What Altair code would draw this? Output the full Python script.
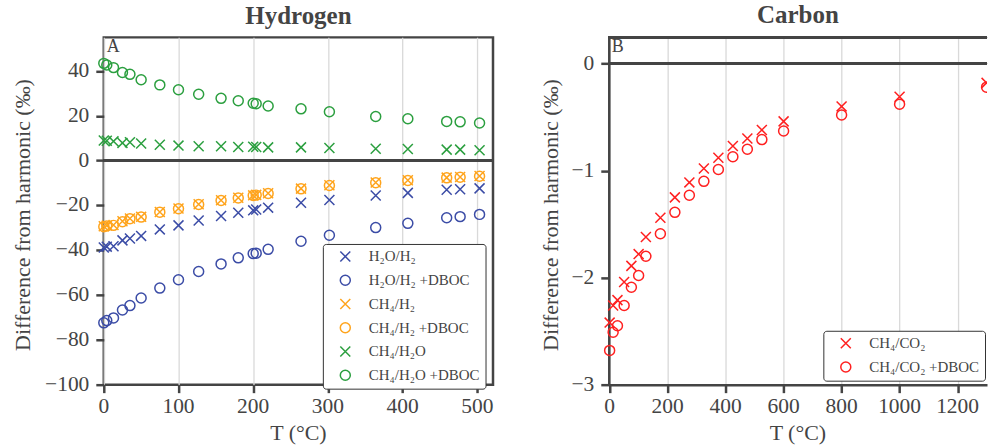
import altair as alt
import pandas as pd

# ---------------- data ----------------
T_H = [0, 4, 13, 25, 35, 50, 75, 100, 127, 157, 180, 200, 204, 220, 264, 302, 364, 407, 459, 477, 503]
h2o_h2 = [-38.8, -38.4, -38.2, -35.6, -34.8, -33.6, -30.7, -28.9, -26.7, -24.7, -23.3, -22.2, -21.8, -21.0,
          -18.8, -17.6, -15.6, -14.4, -13.0, -12.8, -12.4]
h2o_h2_dboc = [-72.4, -71.4, -70.2, -66.7, -64.7, -61.3, -56.9, -53.2, -49.5, -46.1, -43.4, -41.5, -41.3, -39.6,
               -36.0, -33.3, -29.9, -28.0, -25.5, -25.0, -24.0]
ch4_h2 = [-29.3, -29.0, -28.7, -27.1, -25.8, -25.1, -22.9, -21.4, -19.5, -17.7, -16.6, -15.5, -15.3, -14.6,
          -12.5, -11.0, -9.8, -8.8, -7.6, -7.3, -6.9]
ch4_h2_dboc = [-29.5, -29.2, -28.9, -27.3, -25.9, -25.2, -23.0, -21.5, -19.6, -17.8, -16.7, -15.6, -15.4, -14.7,
               -12.6, -11.1, -9.9, -8.9, -7.7, -7.4, -7.0]
ch4_h2o = [9.0, 8.9, 8.6, 7.9, 8.2, 7.6, 7.1, 6.7, 6.4, 6.4, 6.1, 6.2, 6.1, 5.9, 5.9, 5.6, 5.3, 5.2, 4.9, 4.9, 4.6]
ch4_h2o_dboc = [43.4, 42.7, 41.5, 39.3, 38.5, 36.1, 33.8, 31.6, 29.6, 27.8, 26.7, 25.6, 25.4, 24.4, 23.1, 21.8,
                19.7, 18.7, 17.5, 17.3, 16.8]

series_h = ["H₂O/H₂", "H₂O/H₂ +DBOC", "CH₄/H₂", "CH₄/H₂ +DBOC", "CH₄/H₂O", "CH₄/H₂O +DBOC"]
values_h = [h2o_h2, h2o_h2_dboc, ch4_h2, ch4_h2_dboc, ch4_h2o, ch4_h2o_dboc]

T_C = [0, 12, 27, 50, 75, 100, 125, 175, 225, 275, 325, 375, 425, 475, 525, 600, 800, 1000, 1300]
ch4_co2 = [-2.42, -2.26, -2.21, -2.04, -1.89, -1.78, -1.62, -1.44, -1.25, -1.11, -0.98, -0.88, -0.77, -0.70,
           -0.62, -0.54, -0.40, -0.31, -0.18]
ch4_co2_dboc = [-2.68, -2.51, -2.45, -2.26, -2.09, -1.98, -1.80, -1.59, -1.39, -1.23, -1.10, -0.99, -0.87, -0.80,
                -0.71, -0.63, -0.48, -0.38, -0.22]
series_c = ["CH₄/CO₂", "CH₄/CO₂ +DBOC"]
values_c = [ch4_co2, ch4_co2_dboc]

xticks_h = [0, 100, 200, 300, 400, 500]
yticks_h = [-100, -80, -60, -40, -20, 0, 20, 40]
xticks_c = [0, 200, 400, 600, 800, 1000, 1200]
yticks_c = [-3, -2, -1, 0]

YTITLE = "Difference from harmonic (‰)"
XTITLE = "T (°C)"

# ---------------- style ----------------
FONT = "Liberation Serif"
TXT = "#444444"
FRAME = "#444444"
X_PATH = "M-1,-1L1,1M-1,1L1,-1"
colors_h = ["#3b4ca6", "#3b4ca6", "#ffa41c", "#ffa41c", "#2b9f3f", "#2b9f3f"]
shapes_h = [X_PATH, "circle", X_PATH, "circle", X_PATH, "circle"]
colors_c = ["#ff2020", "#ff2020"]
shapes_c = [X_PATH, "circle"]

df_h = pd.DataFrame([{"T": t, "v": v, "series": s}
                     for s, vals in zip(series_h, values_h) for t, v in zip(T_H, vals)])
df_c = pd.DataFrame([{"T": t, "v": v, "series": s}
                     for s, vals in zip(series_c, values_c) for t, v in zip(T_C, vals)])


def fmt(n):
    return ("−" + str(-n)) if n < 0 else str(n)


def panel(df, series, colors, shapes, xdom, ydom, xt, yt, w, h, lx, ly, letter, title,
          ytitle_x, open_right=False, clip_from=None):
    legend = alt.Legend(orient="none", legendX=lx, legendY=ly, fillColor="white", strokeColor="#333333",
                        cornerRadius=3, padding=5, labelFont=FONT, labelFontSize=15, labelColor=TXT,
                        symbolOffset=10, labelOffset=16, rowPadding=6.8, symbolStrokeWidth=1.5,
                        symbolSize=100, labelLimit=300)
    dom = dict(domain=True, domainColor=FRAME, domainWidth=2.5) if open_right else dict(domain=False)
    xaxis = alt.Axis(values=xt, labels=False, title=None, **dom)
    yaxis = alt.Axis(values=yt, labels=False, title=None, **dom)
    base = alt.Chart(df).encode(
        x=alt.X("T:Q", scale=alt.Scale(domain=xdom, nice=False, zero=False), axis=xaxis),
        y=alt.Y("v:Q", scale=alt.Scale(domain=ydom, nice=False, zero=False), axis=yaxis),
        color=alt.Color("series:N", title=None, scale=alt.Scale(domain=series, range=colors), legend=legend),
        shape=alt.Shape("series:N", title=None, scale=alt.Scale(domain=series, range=shapes), legend=legend),
    )
    pt = dict(filled=False, size=100, strokeWidth=1.5, opacity=1)
    layers = [alt.Chart(df).mark_rule(color=FRAME, strokeWidth=2).encode(y=alt.datum(0))]
    if clip_from is None:
        layers.append(base.mark_point(**pt))
    else:
        layers.append(base.transform_filter(alt.datum.T < clip_from).mark_point(**pt))
        layers.append(base.transform_filter(alt.datum.T >= clip_from).mark_point(clip=True, **pt))
    if open_right:
        layers.append(alt.Chart(df).mark_rule(color=FRAME, strokeWidth=2.5).encode(y=alt.datum(ydom[1])))

    txt = dict(font=FONT, color=TXT)
    xlab = pd.DataFrame({"T": xt, "txt": [fmt(t) for t in xt]})
    ylab = pd.DataFrame({"v": yt, "txt": [fmt(t) for t in yt]})
    layers.append(alt.Chart(xlab).mark_text(fontSize=21.5, align="center", baseline="middle", **txt)
                  .encode(x="T:Q", y=alt.value(h + 22), text="txt:N"))
    layers.append(alt.Chart(ylab).mark_text(fontSize=21.5, align="right", baseline="middle", **txt)
                  .encode(y="v:Q", x=alt.value(-14.5), text="txt:N"))
    one = pd.DataFrame({"letter": [letter], "xt": [XTITLE], "yt": [YTITLE]})
    layers.append(alt.Chart(one).mark_text(fontSize=22, align="center", baseline="alphabetic", **txt)
                  .encode(x=alt.value(w / 2), y=alt.value(h + 55), text="xt:N"))
    layers.append(alt.Chart(one).mark_text(fontSize=22, align="center", baseline="middle", angle=270, **txt)
                  .encode(x=alt.value(ytitle_x), y=alt.value(h / 2 + 4), text="yt:N"))
    layers.append(alt.Chart(one).mark_text(fontSize=18, align="left", baseline="top", **txt)
                  .encode(x=alt.value(3), y=alt.value(1), text="letter:N"))
    ch = alt.layer(*layers).properties(width=w, height=h, title=title)
    if open_right:
        ch = ch.properties(view=alt.ViewBackground(stroke="transparent", strokeWidth=0))
    return ch


left = panel(df_h, series_h, colors_h, shapes_h, [0, 521], [-100, 55], xticks_h, yticks_h,
             390, 348, 219.5, 207, "A", "Hydrogen", -81)
right = panel(df_c, series_c, colors_c, shapes_c, [-3, 1301.5], [-3, 0.245], xticks_c, yticks_c,
              379, 348, 215, 294, "B", "Carbon", -57.5, open_right=True, clip_from=1250)

chart = alt.hconcat(left, right, spacing=44).resolve_scale(
    color="independent", shape="independent"
).resolve_legend(color="independent", shape="independent").properties(
    padding={"left": 10, "top": 2, "right": 0, "bottom": 0}
).configure(font=FONT).configure_view(stroke=FRAME, strokeWidth=2.5).configure_axis(
    tickColor=FRAME, tickWidth=2.5, tickSize=8,
    gridColor="#d9d9d9", gridWidth=1.3
).configure_title(font=FONT, fontSize=25, fontWeight="bold", color=TXT, offset=8)

chart.save("out.html", embed_options={"renderer": "svg", "actions": False})
